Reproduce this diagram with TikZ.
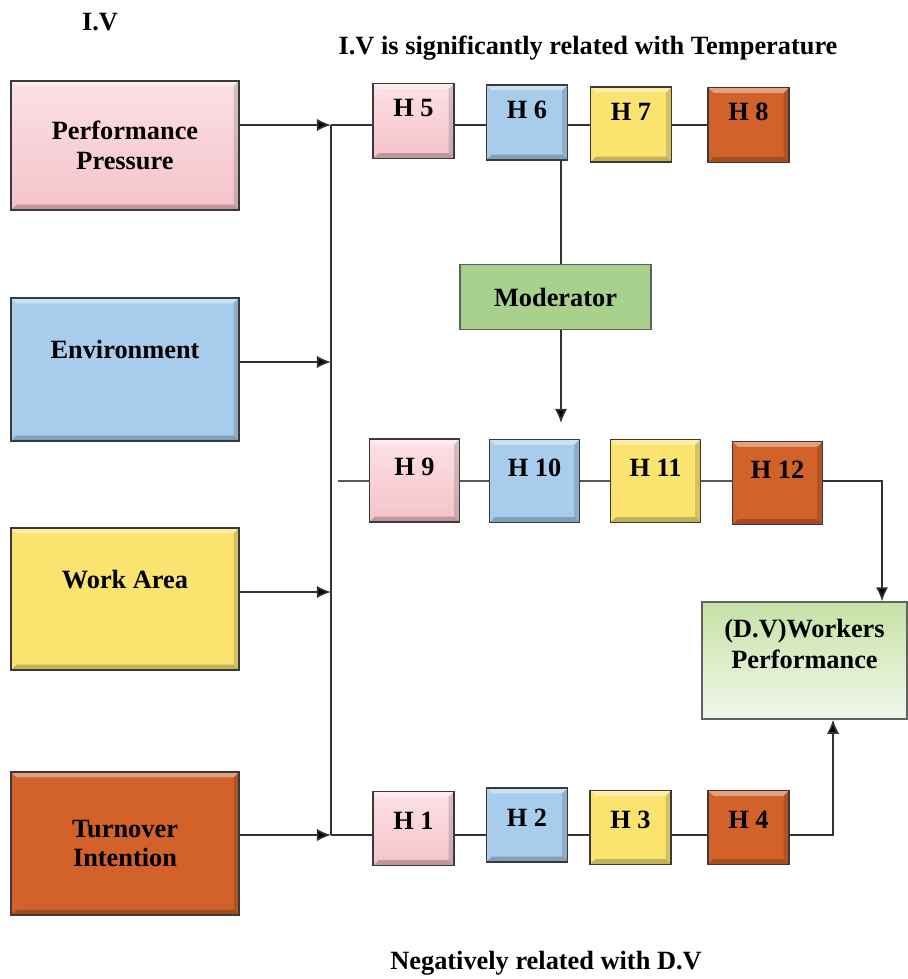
\documentclass[tikz,border=0pt]{standalone}
\usepackage{fontspec}
\setmainfont{Liberation Serif}
\usepackage{tikz}
\usetikzlibrary{arrows.meta}
\usepackage{xcolor}

\definecolor{pinktop}{HTML}{FCE1E5}
\definecolor{pinkbot}{HTML}{F5C2CA}
\definecolor{bluebox}{HTML}{A7CCEC}
\definecolor{yellowbox}{HTML}{FBE36F}
\definecolor{orangebox}{HTML}{D2622A}
\definecolor{greenbox}{HTML}{A9D18E}
\definecolor{dvtop}{HTML}{C6E1A6}
\definecolor{dvbot}{HTML}{F1F8EB}
\definecolor{edge}{HTML}{3A3A3A}

\tikzset{
  bevel/.style={path picture={
    \fill[white,opacity=0.4] (path picture bounding box.north west) -- (path picture bounding box.north east)
      -- ([shift={(-3pt,-3pt)}]path picture bounding box.north east) -- ([shift={(3pt,-3pt)}]path picture bounding box.north west) -- cycle;
    \fill[black,opacity=0.22] (path picture bounding box.south west) -- (path picture bounding box.south east)
      -- ([shift={(-3pt,3pt)}]path picture bounding box.south east) -- ([shift={(3pt,3pt)}]path picture bounding box.south west) -- cycle;
    \fill[black,opacity=0.15] (path picture bounding box.north east) -- (path picture bounding box.south east)
      -- ([shift={(-3pt,3pt)}]path picture bounding box.south east) -- ([shift={(-3pt,-3pt)}]path picture bounding box.north east) -- cycle;
  }},
  boldtext/.style={font=\bfseries\fontsize{15}{17}\selectfont},
  plain/.style={boldtext, inner sep=0pt},
  ivbox/.style={boldtext, draw=edge, line width=1pt, bevel, align=center, minimum width=4.56cm},
  hbox/.style={boldtext, draw=edge, line width=1pt, bevel, inner sep=0pt, text height=0.35cm},
  toprow/.style={hbox, minimum width=1.62cm, minimum height=1.5cm, text depth=0.52cm},
  midrow/.style={hbox, minimum width=1.8cm, minimum height=1.66cm, text depth=0.54cm},
  lowrow/.style={hbox, minimum width=1.62cm, minimum height=1.48cm, text depth=0.3cm},
  pinkfill/.style={top color=pinktop, bottom color=pinkbot},
}

\begin{document}
\begin{tikzpicture}[x=0.02cm, y=-0.02cm, >={Latex[length=8pt,width=7pt,fill=black]}, line width=0.9pt, draw=black!80]
  \useasboundingbox (0,0) rectangle (907,979);

  % texts
  \node[plain] (iv) at (100,22) {I.V};
  \node[plain] (title) at (588,48) {I.V is significantly related with Temperature};
  \node[plain] (neg) at (546,963) {Negatively related with D.V};

  % independent variables
  \node[ivbox, pinkfill, minimum height=2.58cm] (pp) at (125,145.5) {Performance\\Pressure};
  \node[ivbox, fill=bluebox, minimum height=2.86cm, text height=0.35cm, text depth=0.8cm] (env) at (125,369.5) {Environment};
  \node[ivbox, fill=yellowbox, minimum height=2.84cm, text height=0.35cm, text depth=0.76cm] (wa) at (125,599) {Work Area};
  \node[ivbox, fill=orangebox, minimum height=2.86cm] (ti) at (125,843.5) {Turnover\\Intention};

  % hypotheses, top row
  \node[toprow, pinkfill] (h5) at (413.5,121) {H 5};
  \node[toprow, fill=bluebox] (h6) at (527,122.5) {H 6};
  \node[toprow, fill=yellowbox] (h7) at (631,124.5) {H 7};
  \node[toprow, fill=orangebox] (h8) at (748.5,125) {H 8};

  % moderator
  \node[boldtext, draw=edge!80, line width=0.8pt, fill=greenbox, minimum width=3.82cm, minimum height=1.3cm] (mod) at (555.5,297) {Moderator};

  % hypotheses, middle row
  \node[midrow, pinkfill] (h9) at (414.5,480.5) {H 9};
  \node[midrow, fill=bluebox] (h10) at (534.5,481) {H 10};
  \node[midrow, fill=yellowbox] (h11) at (655.5,481) {H 11};
  \node[midrow, fill=orangebox] (h12) at (777.5,483) {H 12};

  % hypotheses, bottom row
  \node[lowrow, pinkfill] (h1) at (413.5,828.5) {H 1};
  \node[lowrow, fill=bluebox] (h2) at (527,825) {H 2};
  \node[lowrow, fill=yellowbox] (h3) at (630.5,827.5) {H 3};
  \node[lowrow, fill=orangebox] (h4) at (748.5,827.5) {H 4};

  % dependent variable
  \node[draw=edge!80, line width=0.8pt, top color=dvtop, bottom color=dvbot, minimum width=4.1cm, minimum height=2.34cm] (dv) at (804.5,660.5) {};
  \node[plain, align=center, font=\bfseries\fontsize{15}{18}\selectfont] (dvtext) at (804.5,644) {(D.V)Workers\\Performance};

  % bus
  \coordinate (b1) at (331,125);
  \coordinate (b2) at (331,362);
  \coordinate (b3) at (331,592);
  \coordinate (b4) at (331,835);
  \draw (b1) -- (b4);
  \draw[->] (pp.east |- b1) -- (b1);
  \draw[->] (env.east |- b2) -- (b2);
  \draw[->] (wa.east |- b3) -- (b3);
  \draw[->] (ti.east |- b4) -- (b4);

  % top row links
  \draw (b1) -- (h5.west |- b1);
  \foreach \a/\b in {h5/h6,h6/h7,h7/h8}
    \draw (\a.east |- b1) -- (\b.west |- b1);

  % moderator links
  \coordinate (mx) at (561,423);
  \draw (h6.south -| mx) -- (mod.north -| mx);
  \draw[->] (mod.south -| mx) -- (mx);

  % middle row links
  \coordinate (m0) at (338,481);
  \coordinate (m1) at (882,481);
  \draw[black!65] (m0) -- (h9.west |- m0);
  \foreach \a/\b in {h9/h10,h10/h11,h11/h12}
    \draw[black!65] (\a.east |- m0) -- (\b.west |- m0);
  \draw[->] (h12.east |- m0) -- (m1) -- (m1 |- dv.north);

  % bottom row links
  \coordinate (m2) at (833,835);
  \draw (b4) -- (h1.west |- b4);
  \foreach \a/\b in {h1/h2,h2/h3,h3/h4}
    \draw (\a.east |- b4) -- (\b.west |- b4);
  \draw[->] (h4.east |- b4) -- (m2) -- (m2 |- dv.south);
\end{tikzpicture}
\end{document}
